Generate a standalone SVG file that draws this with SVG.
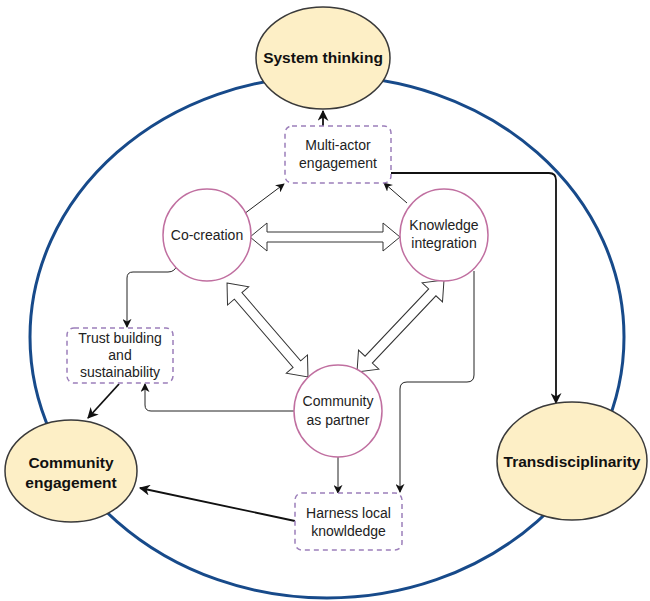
<svg xmlns="http://www.w3.org/2000/svg" width="650" height="601" viewBox="0 0 650 601">
<style>
.bg{fill:#fff}
.ring{fill:none;stroke:#174a8a;stroke-width:3}
.pillar{fill:#fdefc6;stroke:#3a3a3a;stroke-width:1.5}
.pillar-t{font-family:"Liberation Sans",Arial,sans-serif;font-weight:bold;font-size:15.5px;fill:#111;text-anchor:middle}
.core{fill:#fff;stroke:#c06fa0;stroke-width:1.5}
.box{fill:#fff;stroke:#9c7fba;stroke-width:1.5;stroke-dasharray:5,4}
.t{font-family:"Liberation Sans",Arial,sans-serif;font-size:14px;fill:#222;text-anchor:middle}
.thin{fill:none;stroke:#222;stroke-width:1}
.thick{fill:none;stroke:#111;stroke-width:1.8}
.block{fill:#fff;stroke:#333;stroke-width:1}
</style>
<defs>
<marker id="ah" viewBox="0 0 10 10" refX="9" refY="5" markerWidth="9" markerHeight="9" markerUnits="userSpaceOnUse" orient="auto">
<path d="M0,0 L10,5 L0,10 L3,5 Z" fill="#111"/>
</marker>
<marker id="ahb" viewBox="0 0 10 10" refX="9" refY="5" markerWidth="11" markerHeight="11" markerUnits="userSpaceOnUse" orient="auto">
<path d="M0,0 L10,5 L0,10 L3,5 Z" fill="#111"/>
</marker>
</defs>
<rect class="bg" width="650" height="601"/>
<ellipse class="ring" cx="327" cy="337" rx="297" ry="261"/>

<g id="connectors">
<path class="thick" d="M323,126 L323,111" marker-end="url(#ahb)"/>
<path class="thin" d="M244,214 L284,184" marker-end="url(#ah)"/>
<path class="thin" d="M407,203 L384,183" marker-end="url(#ah)"/>
<path class="thick" d="M391,173 L549,173 Q556,173 556,180 L556,403" marker-end="url(#ahb)"/>
<path class="thin" d="M177,265 Q175,272 168,272 L133,272 Q127,272 127,278 L127,327" marker-end="url(#ah)"/>
<path class="thin" d="M295,411 L151,411 Q145,411 145,405 L145,384" marker-end="url(#ah)"/>
<path class="thick" d="M119,384 L88,418" marker-end="url(#ahb)"/>
<path class="thick" d="M295,521 L140,488" marker-end="url(#ahb)"/>
<path class="thin" d="M338,457 L338,493" marker-end="url(#ah)"/>
<path class="thin" d="M474,271 L474,375 Q474,382 467,382 L407,382 Q400,382 400,389 L400,492" marker-end="url(#ah)"/>
<polygon class="block" transform="translate(325,237)" points="-75,0 -58,-14 -58,-5 58,-5 58,-14 75,0 58,14 58,5 -58,5 -58,14"/>
<polygon class="block" transform="translate(267.5,330) rotate(49.25)" points="-62,0 -45,-14 -45,-5 45,-5 45,-14 62,0 45,14 45,5 -45,5 -45,14"/>
<polygon class="block" transform="translate(400.5,326) rotate(133.4)" points="-63.3,0 -46.3,-14 -46.3,-5 46.3,-5 46.3,-14 63.3,0 46.3,14 46.3,5 -46.3,5 -46.3,14"/>
</g>

<g id="system-thinking">
<ellipse class="pillar" cx="323" cy="58" rx="67" ry="51"/>
<text class="pillar-t" x="323" y="63">System thinking</text>
</g>
<g id="community-engagement">
<ellipse class="pillar" cx="71" cy="471" rx="66" ry="51"/>
<text class="pillar-t" x="71" y="468">Community</text>
<text class="pillar-t" x="71" y="488">engagement</text>
</g>
<g id="transdisciplinarity">
<ellipse class="pillar" cx="572" cy="461" rx="75" ry="59"/>
<text class="pillar-t" x="572" y="467">Transdisciplinarity</text>
</g>

<g id="multi-actor">
<rect class="box" x="285" y="126" width="106" height="57" rx="7"/>
<text class="t" x="338" y="150">Multi-actor</text>
<text class="t" x="338" y="168">engagement</text>
</g>
<g id="trust-building">
<rect class="box" x="67" y="328" width="106" height="55" rx="7"/>
<text class="t" x="120" y="343">Trust building</text>
<text class="t" x="120" y="360">and</text>
<text class="t" x="120" y="377">sustainability</text>
</g>
<g id="harness-local">
<rect class="box" x="295" y="493" width="107" height="57" rx="7"/>
<text class="t" x="348.5" y="518">Harness local</text>
<text class="t" x="348.5" y="536">knowldedge</text>
</g>

<g id="co-creation">
<ellipse class="core" cx="207" cy="235" rx="44" ry="46"/>
<text class="t" x="207" y="240">Co-creation</text>
</g>
<g id="knowledge-integration">
<ellipse class="core" cx="444" cy="235" rx="44" ry="46"/>
<text class="t" x="444" y="230">Knowledge</text>
<text class="t" x="444" y="248">integration</text>
</g>
<g id="community-partner">
<ellipse class="core" cx="338" cy="411" rx="44" ry="46"/>
<text class="t" x="338" y="406">Community</text>
<text class="t" x="338" y="425">as partner</text>
</g>
</svg>
